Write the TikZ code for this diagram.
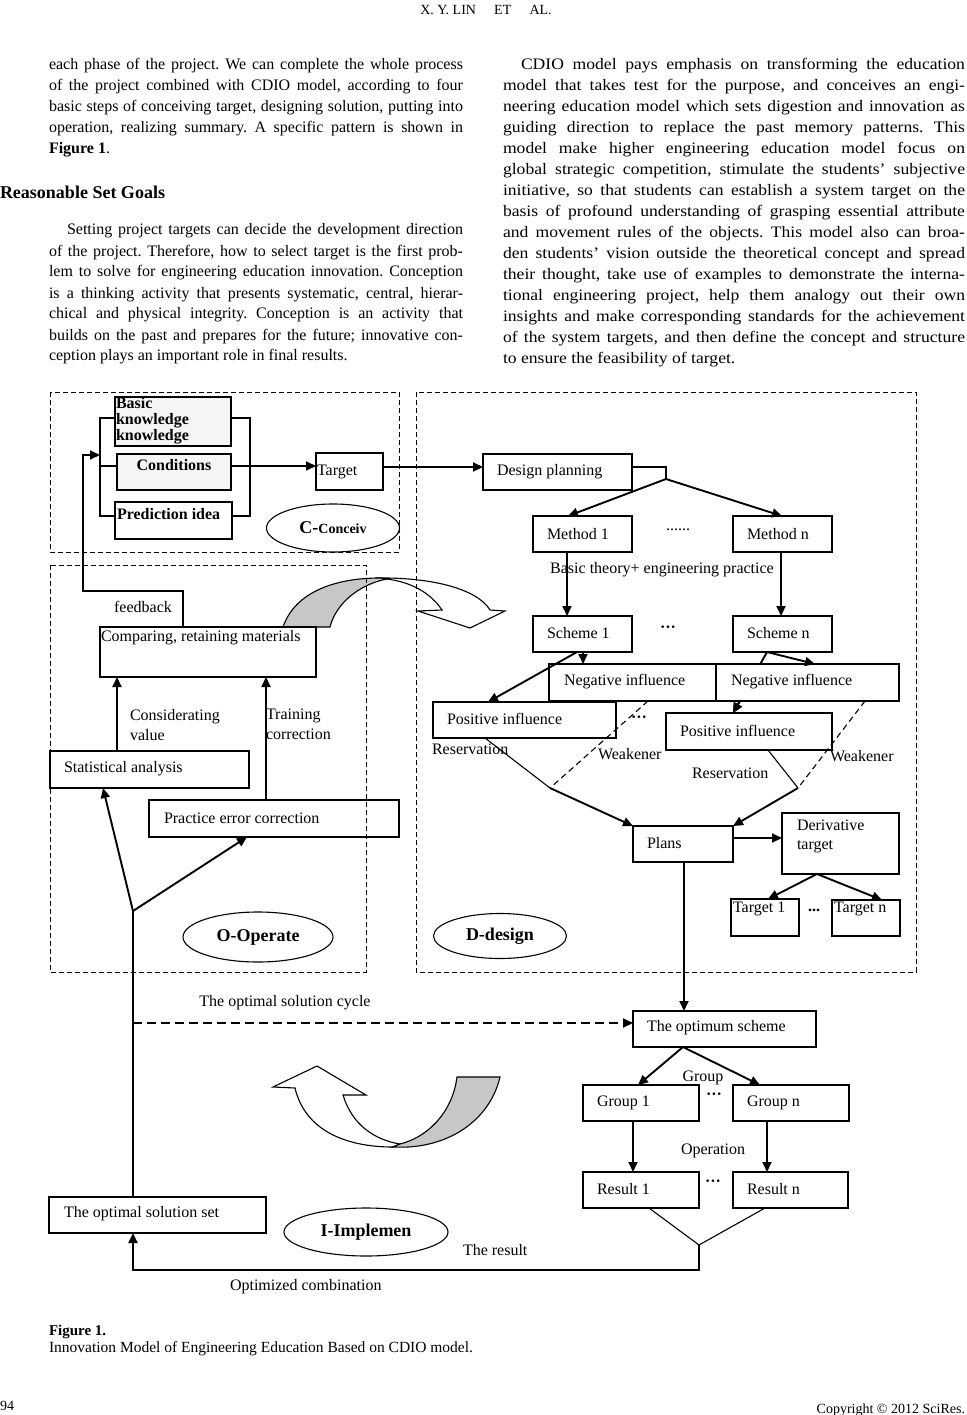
\documentclass[tikz,border=0pt]{standalone}
\usepackage{fontspec}
\setmainfont{Liberation Serif}
\newfontfamily\rfont{Liberation Serif}[FakeStretch=1.1]
\usetikzlibrary{arrows.meta,fit,calc,shapes.geometric}
\newlength\colL \setlength\colL{414pt}
\newlength\colR \setlength\colR{462pt}
\newcommand\LL[1]{\hbox to \colL{#1}}
\newcommand\RL[1]{\hbox to \colR{#1}}
\frenchspacing
\begin{document}
\begin{tikzpicture}[x=1pt,y=-1pt,
  every node/.style={inner sep=0pt,outer sep=0pt},
  font=\fontsize{16}{19}\selectfont,
  body/.style={font=\fontsize{16}{21}\selectfont,anchor=base west},
  bx/.style={draw,line width=1.1pt,inner sep=0pt},
  bxk/.style={draw,line width=1.9pt,inner sep=0pt},
  ln/.style={line width=1.1pt},
  lk/.style={line width=1.9pt},
  arr/.style={-{Triangle[length=10pt,width=9pt]}},
  reg/.style={line width=0.9pt,dash pattern=on 5pt off 3pt},
  ell/.style={draw,ellipse,line width=1.1pt,inner sep=0pt},
  tx/.style={anchor=west},
  bld/.style={font=\fontsize{16}{16}\selectfont\bfseries},
  elt/.style={font=\fontsize{18}{18}\selectfont\bfseries},
]
\useasboundingbox (0,0) rectangle (966,1415);
\fill[white] (0,0) rectangle (966,1415);

% ---------- page text ----------
\node[anchor=base,font=\fontsize{14}{14}\selectfont] (hdr) at (486,15) {X. Y. LIN\hspace{1.3em}ET\hspace{1.3em}AL.};

\node[body] (p1) at (49,70) {\vtop{\baselineskip=21pt
\LL{each phase of the project. We can complete the whole process}
\LL{of the project combined with CDIO model, according to four}
\LL{basic steps of conceiving target, designing solution, putting into}
\LL{operation, realizing summary. A specific pattern is shown in}
\hbox{\textbf{Figure 1}.}}};

\node[anchor=base west,font=\fontsize{18}{18}\selectfont\bfseries] (h2) at (0,199) {Reasonable Set Goals};

\node[body] (p2) at (49,235) {\vtop{\baselineskip=21pt
\LL{\hskip18pt Setting project targets can decide the development direction}
\LL{of the project. Therefore, how to select target is the first prob-}
\LL{lem to solve for engineering education innovation. Conception}
\LL{is a thinking activity that presents systematic, central, hierar-}
\LL{chical and physical integrity. Conception is an activity that}
\LL{builds on the past and prepares for the future; innovative con-}
\hbox{ception plays an important role in final results.}}};

\node[body,font=\rfont\fontsize{16}{21}\selectfont] (p3) at (503,70) {\vtop{\baselineskip=21pt
\RL{\hskip18pt CDIO model pays emphasis on transforming the education}
\RL{model that takes test for the purpose, and conceives an engi-}
\RL{neering education model which sets digestion and innovation as}
\RL{guiding direction to replace the past memory patterns. This}
\RL{model make higher engineering education model focus on}
\RL{global strategic competition, stimulate the students’ subjective}
\RL{initiative, so that students can establish a system target on the}
\RL{basis of profound understanding of grasping essential attribute}
\RL{and movement rules of the objects. This model also can broa-}
\RL{den students’ vision outside the theoretical concept and spread}
\RL{their thought, take use of examples to demonstrate the interna-}
\RL{tional engineering project, help them analogy out their own}
\RL{insights and make corresponding standards for the achievement}
\RL{of the system targets, and then define the concept and structure}
\hbox{to ensure the feasibility of target.}}};

\node[anchor=base west,font=\fontsize{15}{15}\selectfont\bfseries] (fig) at (49,1335) {Figure 1.};
\node[anchor=base west,font=\fontsize{15.5}{15.5}\selectfont] (cap) at (49,1352) {Innovation Model of Engineering Education Based on CDIO model.};
\node[anchor=base west,font=\fontsize{14}{14}\selectfont] (pg) at (0,1410) {94};
\node[anchor=base east,font=\fontsize{14}{14}\selectfont] (cpr) at (965,1413) {Copyright © 2012 SciRes.};

% ---------- big curved arrows ----------
\filldraw[fill=white,line width=1.1pt] (375,578) .. controls (435,577) and (478,590) .. (490,610) -- (505,611) -- (470,628) -- (418,611) -- (442,610) .. controls (430,592) and (410,582) .. (387,579) -- cycle;
\filldraw[fill=black!22,line width=1.1pt] (283,627) .. controls (295,592) and (335,578) .. (380,578) -- (387,579) .. controls (360,584) and (336,603) .. (330,627) -- cycle;

\filldraw[fill=white,line width=1.1pt] (295,1088) -- (273,1087) -- (317,1066) -- (366,1095) -- (343,1095) .. controls (352,1125) and (375,1140) .. (400,1144) -- (393,1147) .. controls (345,1147) and (305,1130) .. (295,1088) -- cycle;
\filldraw[fill=black!22,line width=1.1pt] (393,1147) .. controls (448,1150) and (490,1120) .. (500,1077) -- (457,1077) .. controls (452,1115) and (425,1138) .. (400,1144) -- cycle;

% ---------- regions ----------
\draw[reg] (50,392) rectangle (399,552);
\draw[reg] (416,392) rectangle (916,972);
\draw[reg] (50,565) rectangle (366,972);

% ---------- C ----------
\node[bxk,fill=black!4,fit={(115,397) (231,446)}] (bk) {};
\node[bld,anchor=north west,align=left] (bkt) at (116,397) {Basic\\knowledge\\knowledge};
\node[bx,fill=black!4,fit={(117,454) (231,490)}] (cond) {};
\node[bld] (condt) at (174,465) {Conditions};
\node[bxk,fit={(115,502) (232,539)}] (pred) {};
\node[bld,anchor=west] (predt) at (117,514) {Prediction idea};
\draw[ln] (bk.west |- 0,418) -- (100,418) -- (100,516) -- (pred.west |- 0,516);
\draw[ln] (100,466) -- (cond.west |- 0,466);
\draw[ln] (bk.east |- 0,418) -- (250,418) -- (250,516) -- (pred.east |- 0,516);
\draw[ln] (cond.east |- 0,466) -- (250,466);
\node[bx,fit={(316,453) (383,490)}] (tgt) {};
\node[tx] (tgtt) at (317,472) {Target};
\draw[lk,arr] (250,466) -- (tgt.west |- 0,466);
\node[ell,minimum width=133pt,minimum height=48pt] (cc) at (333,528) {{\fontsize{18}{18}\selectfont\bfseries C-}{\fontsize{14}{14}\selectfont\bfseries Conceiv}};

% ---------- D ----------
\node[bx,fit={(483,454) (632,490)}] (dp) {};
\node[tx] (dpt) at (497,472) {Design planning};
\draw[lk,arr] (tgt.east |- 0,467) -- (dp.west |- 0,467);
\draw[ln] (dp.east |- 0,467) -- (666,467) -- (666,479) coordinate (jd);
\node[bxk,fit={(533,516) (632,552)}] (m1) {};
\node[tx] (m1t) at (547,534) {Method 1};
\node[bxk,fit={(733,516) (832,552)}] (mn) {};
\node[tx] (mnt) at (747,534) {Method n};
\draw[lk,arr] (jd) -- (568,0 |- m1.north);
\draw[lk,arr] (jd) -- (782,0 |- mn.north);
\node (dots1) at (678,530) {......};
\node (btep) at (662,570) {Basic theory+ engineering practice};
\node[bxk,fit={(533,616) (632,652)}] (s1) {};
\node[tx] (s1t) at (547,633) {Scheme 1};
\node[bxk,fit={(733,616) (832,652)}] (sn) {};
\node[tx] (snt) at (747,633) {Scheme n};
\draw[lk,arr] (567,0 |- m1.south) -- (567,0 |- s1.north);
\draw[lk,arr] (781,0 |- mn.south) -- (781,0 |- sn.north);
\node (dots2) at (668,629) {\bfseries ···};

\draw[lk,arr] (767,0 |- sn.south) -- (733,713);
\node[bx,fit={(549,664) (716,701)}] (ng1) {};
\node[tx] (ng1t) at (564,682) {Negative influence};
\node[bx,fill=white,fit={(716,664) (899,701)}] (ng2) {};
\node[tx] (ng2t) at (731,682) {Negative influence};
\draw[lk,arr] (767,0 |- sn.south) -- (815,0 |- ng2.north);
\draw[lk,arr] (583,0 |- s1.south) -- (583,0 |- ng1.north);
\node[bxk,fit={(433,702) (616,738)}] (ps1) {};
\node[tx] (ps1t) at (447,719) {Positive influence};
\draw[lk,arr] (577,0 |- s1.south) -- (488,0 |- ps1.north);
\node[bx,fill=white,fit={(666,713) (832,750)}] (ps2) {};
\node[tx] (ps2t) at (680,731) {Positive influence};
\draw[lk,arr] (740,701) -- (733,0 |- ps2.north);
\node (dots3) at (639,719) {\bfseries ···};

\coordinate (j1) at (550,788);
\coordinate (j2) at (798,788);
\draw[ln] (485,0 |- ps1.south) -- (j1);
\draw[ln,dashed,dash pattern=on 6pt off 4pt] (648,0 |- ng1.south) -- (j1);
\draw[ln] (768,0 |- ps2.south) -- (j2);
\draw[ln,dashed,dash pattern=on 6pt off 4pt] (865,0 |- ng2.south) -- (j2);
\node[tx] (res1) at (432,749) {Reservation};
\node[tx] (wk1) at (598,754) {Weakener};
\node[tx] (res2) at (692,773) {Reservation};
\node[tx] (wk2) at (830,756) {Weakener};

\node[bx,fit={(633,826) (733,862)}] (pl) {};
\node[tx] (plt) at (647,843) {Plans};
\draw[lk,arr] (j1) -- (pl.north west);
\draw[lk,arr] (j2) -- (pl.north east);
\node[bxk,fit={(782,813) (899,874)}] (dt) {};
\node[anchor=north west,align=left,font=\fontsize{16}{19}\selectfont] (dtt) at (797,820) {Derivative\\target};
\draw[lk,arr] (pl.east |- 0,838) -- (dt.west |- 0,838);
\node[bx,fit={(731,899) (799,936)}] (t1) {};
\node[anchor=north west] (t1t) at (733,902) {Target 1};
\node[bx,fit={(832,900) (900,936)}] (tn) {};
\node[anchor=north west] (tnt) at (834,902) {Target n};
\draw[lk,arr] (817,0 |- dt.south) -- (768,0 |- t1.north);
\draw[lk,arr] (817,0 |- dt.south) -- (882,0 |- tn.north);
\node (dots4) at (814,910) {\bfseries ...};
\node[ell,minimum width=133pt,minimum height=45pt,elt] (dd) at (500,936) {D-design};

% ---------- O ----------
\node[bxk,fit={(100,627) (316,677)}] (cmp) {};
\node[tx] (cmpt) at (101,638) {Comparing, retaining materials};
\node (fbt) at (143,607) {feedback};
\draw[lk,arr] (183,0 |- cmp.north) -- (183,591) -- (83,591) -- (83,455) -- (100,455);
\node[bx,fit={(50,751) (249,788)}] (sa) {};
\node[tx] (sat) at (64,769) {Statistical analysis};
\node[bx,fit={(149,800) (399,837)}] (pe) {};
\node[tx] (pet) at (164,818) {Practice error correction};
\draw[lk,arr] (117,0 |- sa.north) -- (117,0 |- cmp.south);
\draw[lk,arr] (266,0 |- pe.north) -- (266,0 |- cmp.south);
\node[anchor=north west,align=left,font=\fontsize{16}{20}\selectfont] (cvt) at (130,709) {Considerating\\value};
\node[anchor=north west,align=left,font=\fontsize{16}{20}\selectfont] (tct) at (266,709) {Training\\correction};
\node[ell,minimum width=150pt,minimum height=50pt,elt] (oo) at (258,937) {O-Operate};

% ---------- I ----------
\node[bx,fit={(49,1197) (266,1233)}] (sol) {};
\node[tx] (solt) at (64,1214) {The optimal solution set};
\coordinate (jo) at (133,911);
\draw[lk] (133,0 |- sol.north) -- (jo);
\draw[lk,arr] (jo) -- (103,0 |- sa.south);
\draw[lk,arr] (jo) -- (247,0 |- pe.south);

\node[bx,fit={(633,1011) (816,1047)}] (os) {};
\node[tx] (ost) at (647,1028) {The optimum scheme};
\draw[lk,arr] (684,0 |- pl.south) -- (684,0 |- os.north);
\draw[lk,dashed,dash pattern=on 9pt off 5pt,arr] (133,1023) -- (os.west |- 0,1023);
\node (osc) at (285,1003) {The optimal solution cycle};

\node[bx,fit={(583,1085) (699,1121)}] (g1) {};
\node[tx] (g1t) at (597,1103) {Group 1};
\node[bx,fit={(733,1085) (849,1121)}] (gn) {};
\node[tx] (gnt) at (747,1103) {Group n};
\draw[lk,arr] (683,0 |- os.south) -- (638,0 |- g1.north);
\draw[lk,arr] (683,0 |- os.south) -- (760,0 |- gn.north);
\node (grp) at (703,1078) {Group};
\node (dots5) at (714,1096) {\bfseries ···};

\node[bx,fit={(583,1172) (699,1208)}] (r1) {};
\node[tx] (r1t) at (597,1189) {Result 1};
\node[bx,fit={(733,1172) (848,1208)}] (rn) {};
\node[tx] (rnt) at (747,1189) {Result n};
\draw[lk,arr] (633,0 |- g1.south) -- (633,0 |- r1.north);
\draw[lk,arr] (767,0 |- gn.south) -- (767,0 |- rn.north);
\node (opn) at (713,1151) {Operation};
\node (dots6) at (713,1183) {\bfseries ···};

\coordinate (jr) at (699,1245);
\draw[ln] (649,0 |- r1.south) -- (jr) -- (765,0 |- rn.south);
\draw[lk,arr] (jr) -- (699,1270) -- (133,1270) -- (133,0 |- sol.south);
\node[tx] (rest) at (463,1250) {The result};
\node[tx] (optc) at (230,1287) {Optimized combination};
\node[ell,minimum width=164pt,minimum height=48pt,elt] (ii) at (366,1232) {I-Implemen};
\end{tikzpicture}
\end{document}
